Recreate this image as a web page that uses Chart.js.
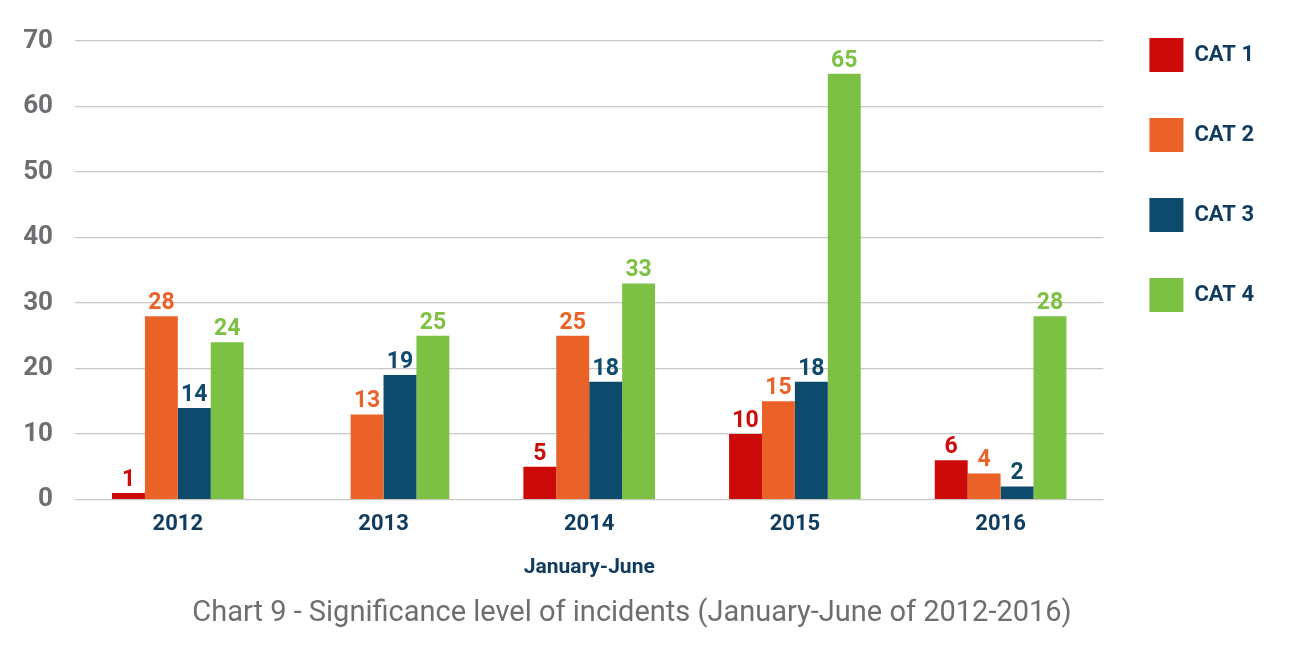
<!DOCTYPE html>
<html lang="en">
<head>
  <meta charset="UTF-8" />
  <title>Significance level of incidents</title>
  <script src="https://cdn.jsdelivr.net/npm/chart.js"></script>
  <style>
    html, body {
      margin: 0;
      padding: 0;
      background: #ffffff;
    }
    #wrap {
      width: 1304px;
      height: 646px;
      position: relative;
    }
  </style>
</head>
<body>
  <div id="wrap"><canvas id="chart"></canvas></div>

  <script>
    // data
    const years = ['2012', '2013', '2014', '2015', '2016'];
    const cat1 = [1, null, 5, 10, 6];
    const cat2 = [28, 13, 25, 15, 4];
    const cat3 = [14, 19, 18, 18, 2];
    const cat4 = [24, 25, 33, 65, 28];
    const seriesNames = ['CAT 1', 'CAT 2', 'CAT 3', 'CAT 4'];
    const xTitle = 'January-June';
    const caption = 'Chart 9 - Significance level of incidents (January-June of 2012-2016)';

    const colors = ['#cc0a0a', '#ea6228', '#0d4a6b', '#7cc143'];
    const navy = '#0e3b5e';
    const grey = '#6d6e71';
    const FONT = 'Roboto, "Open Sans", sans-serif';

    // value labels above each bar
    const barValues = {
      id: 'barValues',
      afterDatasetsDraw(chart) {
        const ctx = chart.ctx;
        ctx.save();
        ctx.font = `bold 23px ${FONT}`;
        ctx.textAlign = 'center';
        ctx.textBaseline = 'alphabetic';
        chart.data.datasets.forEach((ds, i) => {
          const meta = chart.getDatasetMeta(i);
          ctx.fillStyle = ds.backgroundColor;
          meta.data.forEach((bar, j) => {
            const v = ds.data[j];
            if (v === null || v === undefined) return;
            ctx.fillText(String(v), bar.x, bar.y - 7);
          });
        });
        ctx.restore();
      }
    };

    // the legend in the picture starts above the plot top
    const legendShift = {
      id: 'legendShift',
      afterLayout(chart) {
        const lg = chart.legend;
        const pad = lg.options.labels.padding;
        const dy = lg.top - (38 - pad);
        lg.top -= dy;
        lg.bottom -= dy;
      }
    };

    new Chart(document.getElementById('chart'), {
      type: 'bar',
      data: {
        labels: years,
        datasets: [cat1, cat2, cat3, cat4].map((d, i) => ({
          label: seriesNames[i],
          data: d,
          backgroundColor: colors[i],
          borderWidth: 0,
          categoryPercentage: 0.64,
          barPercentage: 1.0
        }))
      },
      options: {
        responsive: true,
        maintainAspectRatio: false,
        animation: false,
        layout: {
          padding: { top: 41, right: 40, bottom: 0, left: 0 }
        },
        scales: {
          x: {
            grid: { display: false, drawTicks: false },
            border: { display: false },
            ticks: {
              color: navy,
              padding: 12,
              font: { family: FONT, size: 22, weight: 'bold' }
            },
            title: {
              display: true,
              text: xTitle,
              color: navy,
              padding: { top: 5, bottom: 4 },
              font: { family: FONT, size: 21, weight: 'bold' }
            }
          },
          y: {
            min: 0,
            max: 70,
            afterFit(scale) { scale.width = 75; },
            grid: { color: '#c8c8c8', lineWidth: 1.2, drawTicks: false },
            border: { display: false },
            ticks: {
              stepSize: 10,
              color: grey,
              padding: 22,
              font: { family: FONT, size: 26, weight: 'bold' }
            }
          }
        },
        plugins: {
          legend: {
            position: 'right',
            align: 'start',
            labels: {
              boxWidth: 34,
              boxHeight: 34,
              padding: 46,
              color: navy,
              font: { family: FONT, size: 22, weight: 'bold' }
            }
          },
          title: {
            display: true,
            position: 'bottom',
            text: caption,
            color: grey,
            padding: { top: 12, bottom: 15 },
            font: { family: FONT, size: 29, weight: 'normal' }
          },
          tooltip: { enabled: false }
        }
      },
      plugins: [barValues, legendShift]
    });
  </script>
</body>
</html>
